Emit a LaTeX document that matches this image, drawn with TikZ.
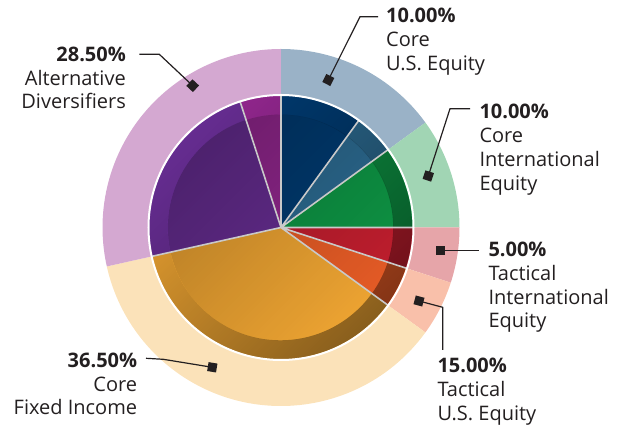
\documentclass[tikz,border=0pt]{standalone}
\usepackage{fontspec}
\setmainfont{Open Sans}
\usepackage{tikz}
\usetikzlibrary{fadings}
\definecolor{labelink}{HTML}{231F20}
\definecolor{ringblue}{HTML}{9AB2C7}
\definecolor{ringgreen}{HTML}{A1D5B4}
\definecolor{ringpink}{HTML}{E6A5A9}
\definecolor{ringsalmon}{HTML}{F9C0AA}
\definecolor{ringyellow}{HTML}{FBE2B9}
\definecolor{ringpurple}{HTML}{D4A8D1}
\definecolor{pienavy}{HTML}{003B71}
\definecolor{pieteal}{HTML}{2C6A90}
\definecolor{piegreen}{HTML}{0E9444}
\definecolor{piered}{HTML}{BF1E2E}
\definecolor{pieorange}{HTML}{E45B26}
\definecolor{piegold}{HTML}{ECA332}
\definecolor{piepurple}{HTML}{662D91}
\definecolor{piemagenta}{HTML}{93278F}
\definecolor{spoke}{HTML}{C9C9C9}
\tikzfading[name=rimfade, left color=transparent!100, right color=transparent!0]
\tikzfading[name=diskfade, left color=transparent!0, right color=transparent!100]
\tikzset{
    marker/.style={
           rectangle,
           fill=labelink,
           minimum size=9pt,
           inner sep=0pt,
           },
    leader/.style={
           draw=labelink,
           line width=1.2pt,
           },
    tag/.style={
           text=labelink,
           inner sep=0pt,
           font=\fontsize{20}{23.7}\selectfont,
           },
}
\begin{document}
\begin{tikzpicture}[x=1pt, y=1pt]
  \useasboundingbox (-281,-199.5) rectangle (340,227.5);
  % outer ring
  \fill[ringblue]   (90:178.5) arc[start angle=90, end angle=36, radius=178.5] -- (36:132) arc[start angle=36, end angle=90, radius=132] -- cycle;
  \fill[ringgreen]  (36:178.5) arc[start angle=36, end angle=0, radius=178.5] -- (0:132) arc[start angle=0, end angle=36, radius=132] -- cycle;
  \fill[ringpink]   (0:178.5) arc[start angle=0, end angle=-18, radius=178.5] -- (-18:132) arc[start angle=-18, end angle=0, radius=132] -- cycle;
  \fill[ringsalmon] (-18:178.5) arc[start angle=-18, end angle=-36, radius=178.5] -- (-36:132) arc[start angle=-36, end angle=-18, radius=132] -- cycle;
  \fill[ringyellow] (-36:178.5) arc[start angle=-36, end angle=-167.4, radius=178.5] -- (-167.4:132) arc[start angle=-167.4, end angle=-36, radius=132] -- cycle;
  \fill[ringpurple] (-167.4:178.5) arc[start angle=-167.4, end angle=-270, radius=178.5] -- (-270:132) arc[start angle=-270, end angle=-167.4, radius=132] -- cycle;
  % inner pie
  \fill[pienavy]    (0,0) -- (90:132) arc[start angle=90, end angle=54, radius=132] -- cycle;
  \fill[pieteal]    (0,0) -- (54:132) arc[start angle=54, end angle=36, radius=132] -- cycle;
  \fill[piegreen]   (0,0) -- (36:132) arc[start angle=36, end angle=0, radius=132] -- cycle;
  \fill[piered]     (0,0) -- (0:132) arc[start angle=0, end angle=-18, radius=132] -- cycle;
  \fill[pieorange]  (0,0) -- (-18:132) arc[start angle=-18, end angle=-36, radius=132] -- cycle;
  \fill[piegold]    (0,0) -- (-36:132) arc[start angle=-36, end angle=-167.4, radius=132] -- cycle;
  \fill[piepurple]  (0,0) -- (-167.4:132) arc[start angle=-167.4, end angle=-252, radius=132] -- cycle;
  \fill[piemagenta] (0,0) -- (-252:132) arc[start angle=-252, end angle=-270, radius=132] -- cycle;
  % bevel
  \fill[black, fill opacity=0.42, path fading=rimfade, fading angle=-45, even odd rule]
    (0,0) circle[radius=132] (0,0) circle[radius=113];
  \fill[black, fill opacity=0.24, path fading=diskfade, fading angle=-45]
    (0,0) circle[radius=113];
  \draw[spoke, line width=1.6pt]
    (0,0) -- (90:132) (0,0) -- (54:132) (0,0) -- (36:132) (0,0) -- (0:132)
    (0,0) -- (-18:132) (0,0) -- (-36:132) (0,0) -- (-167.4:132) (0,0) -- (-252:132);
  \draw[white, line width=2pt] (0,0) circle[radius=132.5];

  % labels
  \node[tag, anchor=north west, align=left]  (tUS)   at (105,219.5)    {\textbf{10.00\%}\\Core\\U.S. Equity};
  \node[tag, anchor=north west, align=left]  (tIntl) at (198.3,123.2)  {\textbf{10.00\%}\\Core\\International\\Equity};
  \node[tag, anchor=north west, align=left]  (tTI)   at (207.3,-14.5)  {\textbf{5.00\%}\\Tactical\\International\\Equity};
  \node[tag, anchor=north west, align=left]  (tTU)   at (156.3,-130.8) {\textbf{15.00\%}\\Tactical\\U.S. Equity};
  \node[tag, anchor=north east, align=right] (tAlt)  at (-155,180.8)   {\textbf{28.50\%}\\Alternative\\Diversifiers};
  \node[tag, anchor=north east, align=right] (tFI)   at (-143.7,-125.2){\textbf{36.50\%}\\Core\\Fixed Income};

  % markers and leaders
  \node[marker, rotate=63.4] (mUS)   at (47.3,147.5)  {};
  \node[marker, rotate=72]   (mIntl) at (147.3,51.5)  {};
  \node[marker]              (mTI)   at (159.7,-23.2) {};
  \node[marker, rotate=-15]  (mTU)   at (138,-73.5)   {};
  \node[marker, rotate=46.8] (mAlt)  at (-88.3,141.8) {};
  \node[marker, rotate=-9.3] (mFI)   at (-68.7,-139.8){};
  \coordinate (kUS)   at (79,210.8);     \coordinate (eUS)   at (97,210.8);
  \coordinate (kIntl) at (169,118.8);    \coordinate (eIntl) at (189,118.8);
  \coordinate (eTI)   at (198.3,-23.2);
  \coordinate (kTU)   at (161.7,-79.8);  \coordinate (eTU)   at (161.7,-122.5);
  \coordinate (kAlt)  at (-121.7,173.2); \coordinate (eAlt)  at (-141.7,173.2);
  \coordinate (kFI)   at (-117.7,-131.8);\coordinate (eFI)   at (-135,-130.8);
  \draw[leader] (mUS.center) -- (kUS) -- (eUS);
  \draw[leader] (mIntl.center) -- (kIntl) -- (eIntl);
  \draw[leader] (mTI.center) -- (eTI);
  \draw[leader] (mTU.center) -- (kTU) -- (eTU);
  \draw[leader] (mAlt.center) -- (kAlt) -- (eAlt);
  \draw[leader] (mFI.center) -- (kFI) -- (eFI);
\end{tikzpicture}
\end{document}
